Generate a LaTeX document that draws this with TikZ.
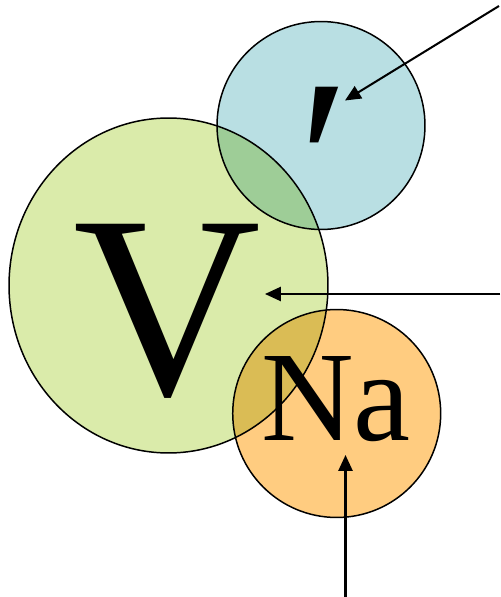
\documentclass[tikz,border=0pt]{standalone}
\usepackage{fontspec}
\setmainfont{Liberation Serif}
\usetikzlibrary{arrows.meta,shapes.geometric}
\definecolor{primeblue}{HTML}{B9DFE3}
\definecolor{vgreen}{HTML}{DAEBAA}
\definecolor{naorange}{HTML}{FFCC80}
\tikzset{>={Triangle[length=9pt,width=8pt]},line width=.85pt,
  blob/.style={draw=black,line width=.85pt,inner sep=0pt},
  pointer/.style={->,draw=black,line width=1.15pt},
  bigletter/.style={inner sep=0pt,anchor=base}}

\begin{document}
\begin{tikzpicture}[x=.02cm,y=-.02cm]
\path[use as bounding box] (0,0) rectangle (500,597);
% three overlapping blobs
\begin{scope}[blend group=multiply]
\node[blob,circle,fill=primeblue,minimum size=4.16cm] (bluecirc) at (321,125.5) {};
\node[blob,ellipse,fill=vgreen,minimum width=6.38cm,minimum height=6.7cm] (greencirc) at (168.5,285.5) {};
\node[blob,circle,fill=naorange,minimum size=4.16cm] (orangecirc) at (336.7,413.5) {};
\end{scope}
% letters
\node[bigletter] (vtxt) at (167.5,394) {\fontsize{148}{148}\selectfont V};
\node[bigletter] (natxt) at (336,440) {\fontsize{73}{73}\selectfont Na};
\node[inner sep=0pt,anchor=north] (primetxt) at (324,87) {\fontsize{135}{135}\selectfont ′};
% arrows
\coordinate (ptop) at (499,6);
\coordinate (pmid) at (500,294);
\coordinate (pbot) at (345.5,597);
\coordinate (tiptop) at (345,100.5);
\coordinate (tipmid) at (265,294);
\coordinate (tipbot) at (345.5,455);
\draw[pointer] (ptop) -- (tiptop);
\draw[pointer] (pmid) -- (tipmid);
\draw[pointer] (pbot) -- (tipbot);
\end{tikzpicture}
\end{document}
